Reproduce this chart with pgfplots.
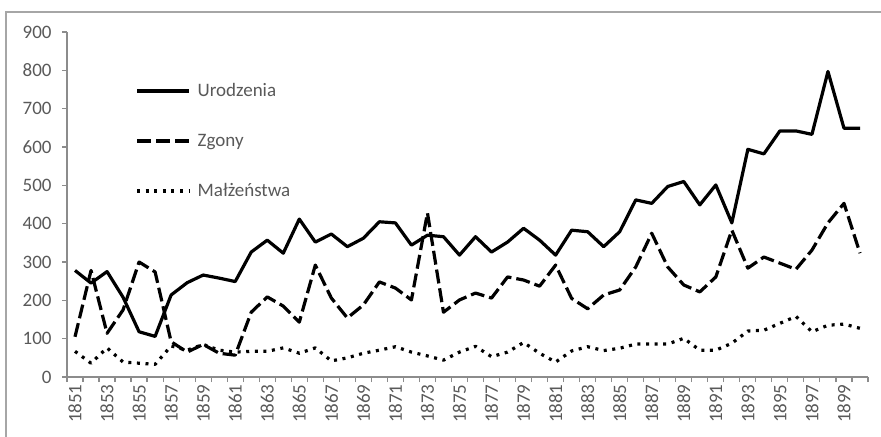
\documentclass[border=0pt]{standalone}
\usepackage{pgfplots}
\pgfplotsset{compat=1.18}
\usepackage{fontspec}
\setmainfont{Carlito}
\definecolor{txt}{HTML}{595959}
\definecolor{axl}{HTML}{8C8C8C}
\definecolor{frm}{HTML}{A6A6A6}
\begin{document}
\fontsize{9.5pt}{11pt}\selectfont
\begin{tikzpicture}
\useasboundingbox (0,0) rectangle (440.5pt,218pt);
\draw[frm, line width=1pt] (3pt,-20pt) -- (3pt,212pt) -- (460pt,212pt);
\begin{axis}[
  at={(33.5pt,29.5pt)}, anchor=south west,
  scale only axis, width=400.5pt, height=172.5pt,
  xmin=1850.5, xmax=1900.5, ymin=0, ymax=900,
  axis x line*=bottom, axis y line*=left,
  axis line style={axl, line width=0.75pt},
  every outer x axis line/.append style={-}, every outer y axis line/.append style={-},
  ytick={0,100,...,900},
  xtick={1851,1853,...,1899},
  minor xtick={1850.5,1851.5,...,1900.5},
  major x tick style={draw=none},
  minor x tick style={axl, line width=0.6pt},
  y tick style={axl, line width=0.6pt},
  tick align=outside, major tick length=2.5pt, minor tick length=2.5pt,
  /pgf/number format/.cd, 1000 sep={}, assume math mode=true, /pgfplots/.cd,
  ticklabel style={font=\fontsize{9.5pt}{11pt}\selectfont, text=txt},
  xticklabel style={rotate=90, anchor=east, inner sep=1pt},
  yticklabel style={inner sep=1pt, xshift=-4pt},
  xtick pos=bottom, ytick pos=left,
  legend style={draw=none, fill=none, at={(0.085,0.862)}, anchor=north west,
    inner sep=0pt, row sep=14pt, column sep=2.5pt,
    nodes={inner sep=1pt, text height=7pt, text depth=2pt, text=txt, font=\fontsize{9.5pt}{11pt}\selectfont}},
  legend cell align=left,
  legend image code/.code={\draw[#1] (0pt,0pt) -- (26pt,0pt);},
]
\addplot[black, line width=1.6pt, line join=round] coordinates {
(1851,278)(1852,245)(1853,275)(1854,208)(1855,118)(1856,106)(1857,214)(1858,246)(1859,266)(1860,258)
(1861,249)(1862,326)(1863,357)(1864,323)(1865,412)(1866,352)(1867,373)(1868,340)(1869,362)(1870,405)
(1871,402)(1872,344)(1873,370)(1874,366)(1875,318)(1876,366)(1877,326)(1878,352)(1879,388)(1880,357)
(1881,318)(1882,383)(1883,379)(1884,340)(1885,379)(1886,462)(1887,453)(1888,497)(1889,510)(1890,449)
(1891,501)(1892,402)(1893,594)(1894,582)(1895,642)(1896,642)(1897,633)(1898,797)(1899,649)(1900,649)};
\addlegendentry{Urodzenia}
\addplot[black, line width=1.6pt, line join=round, dash pattern=on 7pt off 2.5pt] coordinates {
(1851,105)(1852,278)(1853,114)(1854,175)(1855,300)(1856,274)(1857,92)(1858,65)(1859,85)(1860,62)
(1861,57)(1862,169)(1863,209)(1864,185)(1865,143)(1866,292)(1867,206)(1868,154)(1869,188)(1870,248)
(1871,232)(1872,201)(1873,428)(1874,169)(1875,201)(1876,219)(1877,206)(1878,261)(1879,253)(1880,237)
(1881,292)(1882,205)(1883,178)(1884,214)(1885,227)(1886,287)(1887,375)(1888,287)(1889,240)(1890,222)
(1891,261)(1892,383)(1893,284)(1894,313)(1895,297)(1896,281)(1897,331)(1898,402)(1899,453)(1900,323)};
\addlegendentry{Zgony}
\addplot[black, line width=1.6pt, line join=round, dash pattern=on 1.5pt off 2.8pt] coordinates {
(1851,67)(1852,36)(1853,76)(1854,39)(1855,36)(1856,33)(1857,81)(1858,70)(1859,85)(1860,70)
(1861,65)(1862,67)(1863,67)(1864,76)(1865,62)(1866,76)(1867,42)(1868,50)(1869,62)(1870,70)
(1871,79)(1872,65)(1873,55)(1874,44)(1875,65)(1876,80)(1877,53)(1878,65)(1879,90)(1880,62)
(1881,39)(1882,68)(1883,79)(1884,69)(1885,75)(1886,86)(1887,86)(1888,86)(1889,101)(1890,70)
(1891,70)(1892,88)(1893,120)(1894,122)(1895,140)(1896,158)(1897,118)(1898,135)(1899,138)(1900,127)};
\addlegendentry{Małżeństwa}
\end{axis}
\end{tikzpicture}
\end{document}
